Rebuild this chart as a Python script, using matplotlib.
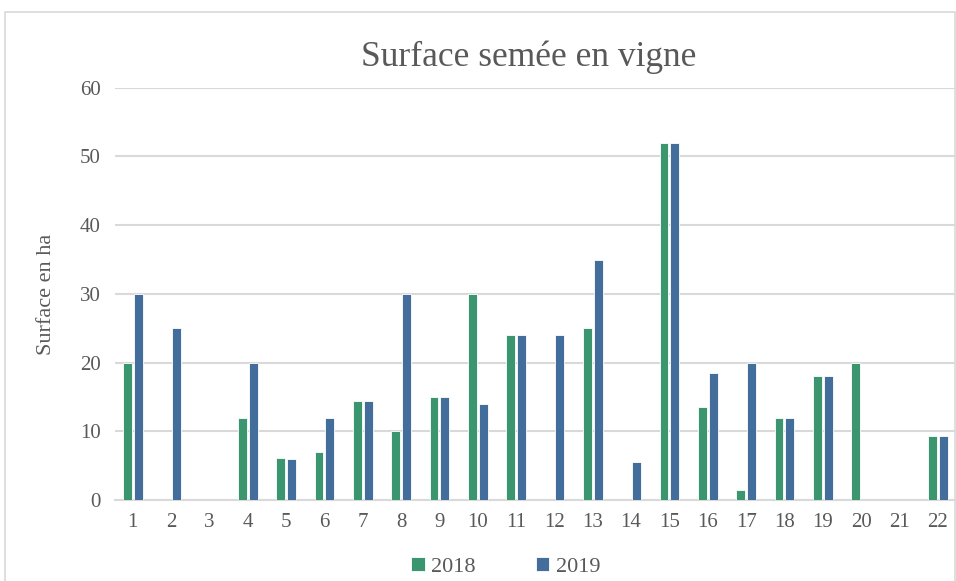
import numpy as np
import matplotlib.pyplot as plt
from matplotlib.patches import Rectangle

# data
categories = [str(i) for i in range(1, 23)]
y2018 = [20, 0, 0, 12, 6.2, 7, 14.5, 10, 15, 30, 24, 0, 25, 0, 52, 13.5, 1.5, 12, 18, 20, 0, 9.3]
y2019 = [30, 25, 0, 20, 6, 12, 14.5, 30, 15, 14, 24, 24, 35, 5.5, 52, 18.5, 20, 12, 18, 0, 0, 9.3]
series_names = ["2018", "2019"]

green = "#3b9670"
blue = "#436e9c"
grey_txt = "#595959"
grid_col = "#d9d9d9"

plt.rcParams['font.family'] = ['Liberation Serif', 'DejaVu Serif']

fig = plt.figure(figsize=(9.56, 5.81), dpi=100)
ax = fig.add_axes([0.120, 0.139, 0.879, 0.710])

x = np.arange(1, len(categories) + 1)
w = 0.23
off = 0.14
ax.bar(x - off, y2018, width=w, color=green, edgecolor="white", linewidth=0.6, label=series_names[0], zorder=3)
ax.bar(x + off, y2019, width=w, color=blue, edgecolor="white", linewidth=0.6, label=series_names[1], zorder=3)

ax.set_ylim(0, 60)
ax.set_xlim(0.53, 22.45)
ax.set_yticks(range(0, 61, 10))
ax.set_xticks(x)
ax.set_xticklabels(categories)
ax.yaxis.grid(True, color=grid_col, linewidth=1.5, zorder=0)
ax.set_axisbelow(True)
for s in ["top", "right", "left"]:
    ax.spines[s].set_visible(False)
ax.spines["bottom"].set_color(grid_col)
ax.spines["bottom"].set_linewidth(1.5)
ax.tick_params(length=0, labelsize=15, colors=grey_txt)
ax.tick_params(axis="x", pad=9)
ax.tick_params(axis="y", pad=10)

ax.set_ylabel("Surface en ha", fontsize=16, color=grey_txt, labelpad=17)
fig.text(0.553, 0.902, "Surface semée en vigne", fontsize=25.5, color=grey_txt, ha="center", va="center")

fig.legend(loc="center", bbox_to_anchor=(0.529, 0.024), ncol=2, frameon=False,
           fontsize=16, labelcolor=grey_txt, handlelength=0.6, handleheight=0.6,
           handletextpad=0.3, columnspacing=2.7)

# outer chart border
fig.add_artist(Rectangle((5 / 956, -0.01), 950 / 956, 1 - 12 / 581 + 0.01, transform=fig.transFigure,
                         fill=False, edgecolor=grid_col, linewidth=1.2))

fig.savefig("out.png", dpi=100)
